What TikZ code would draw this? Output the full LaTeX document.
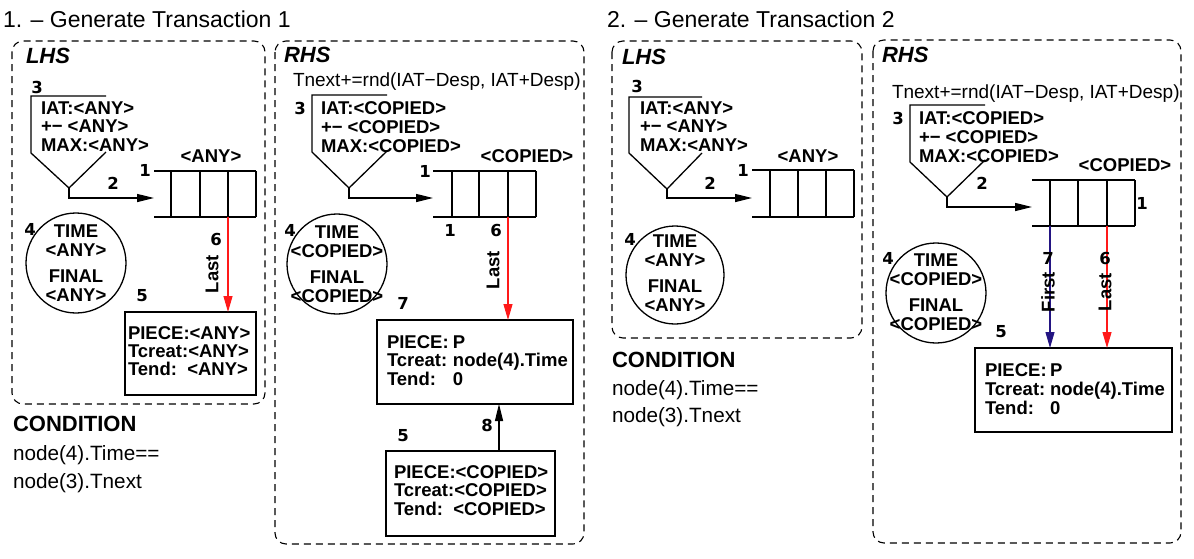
\documentclass[tikz,border=0pt]{standalone}
\usepackage{fontspec}
\setmainfont{Liberation Sans}
\newfontfamily\numfont{DejaVu Sans}
\usetikzlibrary{arrows.meta}
\definecolor{arred}{RGB}{255,25,25}
\definecolor{arblue}{RGB}{35,20,130}
\begin{document}
\begin{tikzpicture}[x=1pt,y=-1pt,
  every node/.style={inner sep=0pt,outer sep=0pt},
  panel/.style={draw,dash pattern=on 7pt off 5pt,line width=1.1pt,rounded corners=11pt},
  ttl/.style={font=\fontsize{23}{26}\selectfont,anchor=base west},
  side/.style={font=\fontsize{22}{24}\selectfont\bfseries\itshape,anchor=base west},
  attr/.style={font=\fontsize{18.5}{18.6}\selectfont\bfseries,align=left,anchor=north west},
  ctext/.style={font=\fontsize{18.5}{19}\selectfont\bfseries,align=center},
  num/.style={font=\numfont\bfseries\fontsize{16.5}{16.5}\selectfont},
  bold18/.style={font=\fontsize{18.5}{18.5}\selectfont\bfseries},
  formula/.style={font=\fontsize{19}{21}\selectfont,anchor=base west},
  condh/.style={font=\fontsize{22}{24}\selectfont\bfseries,anchor=base west},
  condt/.style={font=\fontsize{20.7}{28}\selectfont,anchor=base west},
  shp/.style={line width=1.3pt},
  box/.style={draw,line width=1.3pt,anchor=north west},
  circ/.style={draw,circle,line width=1.3pt,minimum size=100pt},
  arr/.style={line width=1.3pt,-{Triangle[length=17pt,width=8pt]}},
  redarr/.style={arred,line width=1.1pt,-{Triangle[length=16pt,width=9pt]}},
  bluearr/.style={arblue,line width=1.1pt,-{Triangle[length=16pt,width=9pt]}},
  rot/.style={bold18,rotate=90}
]
\useasboundingbox (0,0) rectangle (1194,558);

% ================= Panel 1 =================
\node[ttl] (t1) at (3,27) {1. -- Generate Transaction 1};

% ---- LHS 1
\draw[panel] (12,41) rectangle (265,404);
\node[side] (lhs1) at (26,63) {LHS};
\node[num] (n13) at (37,87) {3};
\draw[shp] (106,96) -- (31,96) -- (31,153) -- (69,188) -- (106,152);
\node[attr] (g1t) at (41,101.5) {IAT:<ANY>\\+− <ANY>\\MAX:<ANY>};
\coordinate (g1) at (69,188);
\coordinate (q1in) at (154,198);
\draw[arr] (g1) |- (q1in);
\node[num] (n12) at (113,183) {2};
\draw[shp] (154,171) -- (256,171) (154,217) -- (256,217);
\foreach \xx in {171,200,228,256} \draw[shp] (\xx,171) -- (\xx,217);
\coordinate (q1c3) at (228,217);
\node[num] (n11) at (145,170) {1};
\node[bold18] (q1lab) at (211,156) {<ANY>};
\node[circ] (c1) at (76,263) {};
\node[ctext] (c1t) at (76,263) {TIME\\<ANY>\\[7pt]FINAL\\<ANY>};
\node[num] (n14) at (30,229) {4};
\node[box,minimum width=131pt,minimum height=83pt] (b1) at (125,312) {};
\node[attr,font=\fontsize{18.5}{18}\selectfont\bfseries] (b1t) at (128,326.5) {PIECE:<ANY>\\Tcreat:<ANY>\\Tend:\ \ <ANY>};
\draw[redarr] (q1c3) -- (b1.north -| q1c3);
\node[num] (n16) at (216,239) {6};
\node[rot] (l1) at (212,274) {Last};
\node[num] (n15) at (142,296) {5};

\node[condh] (cond1) at (13,431.5) {CONDITION};
\node[condt] (cond1a) at (13,460) {node(4).Time==};
\node[condt] (cond1b) at (13,488) {node(3).Tnext};

% ---- RHS 1
\draw[panel] (275,41) rectangle (584,544);
\node[side] (rhs1) at (284,62.5) {RHS};
\node[formula] (f1) at (293,86.5) {Tnext+=rnd(IAT−Desp, IAT+Desp)};
\node[num] (n23) at (300,108) {3};
\draw[shp] (387,95) -- (312,95) -- (312,152) -- (349,188) -- (387,151);
\node[attr,font=\fontsize{18.5}{19}\selectfont\bfseries] (g2t) at (321,101.5) {IAT:<COPIED>\\+− <COPIED>\\MAX:<COPIED>};
\coordinate (g2) at (349,188);
\coordinate (q2in) at (433,198);
\draw[arr] (g2) |- (q2in);
\draw[shp] (433,171) -- (536,171) (433,217) -- (536,217);
\foreach \xx in {452,479,508,536} \draw[shp] (\xx,171) -- (\xx,217);
\coordinate (q2c3) at (508,217);
\node[num] (n21) at (425,171) {1};
\node[bold18] (q2lab) at (527,156) {<COPIED>};
\node[num] (n21b) at (450,230) {1};
\node[num] (n26) at (496,230) {6};
\node[circ] (c2) at (337,264) {};
\node[ctext] (c2t) at (337,264) {TIME\\<COPIED>\\[7pt]FINAL\\<COPIED>};
\node[num] (n24) at (290,230) {4};
\node[rot] (l2) at (493,270) {Last};
\node[num] (n27) at (403,303) {7};
\node[box,minimum width=196pt,minimum height=84pt] (b7) at (377,320) {};
\node[attr,font=\fontsize{18.5}{18.5}\selectfont\bfseries] (b7t) at (387,335.5)
  {\makebox[66pt][l]{PIECE:}P\\\makebox[66pt][l]{Tcreat:}node(4).Time\\\makebox[66pt][l]{Tend:}0};
\draw[redarr] (q2c3) -- (b7.north -| q2c3);
\node[box,minimum width=169pt,minimum height=85pt] (b5) at (386,451) {};
\node[attr,font=\fontsize{18.5}{18.5}\selectfont\bfseries] (b5t) at (394,465.5)
  {PIECE:<COPIED>\\Tcreat:<COPIED>\\Tend:\ \ <COPIED>};
\coordinate (a8) at (499,451);
\draw[arr] (a8) -- (b7.south -| a8);
\node[num] (n28) at (487,425) {8};
\node[num] (n25) at (403,436) {5};

% ================= Panel 2 =================
\node[ttl] (t2) at (607,27) {2. -- Generate Transaction 2};

% ---- LHS 2
\draw[panel] (612,41) rectangle (862,338);
\node[side] (lhs2) at (622,64) {LHS};
\node[num] (n33) at (637,86) {3};
\draw[shp] (702,97) -- (629,97) -- (629,153) -- (667,189) -- (702,153);
\node[attr] (g3t) at (640,101.5) {IAT:<ANY>\\+− <ANY>\\MAX:<ANY>};
\coordinate (g3) at (667,189);
\coordinate (q3in) at (752,198);
\draw[arr] (g3) |- (q3in);
\node[num] (n32) at (710,183) {2};
\draw[shp] (752,170) -- (854,170) (752,217) -- (854,217);
\foreach \xx in {770,798,826,854} \draw[shp] (\xx,170) -- (\xx,217);
\node[num] (n31) at (743,170) {1};
\node[bold18] (q3lab) at (808,156) {<ANY>};
\node[circ,minimum size=98pt] (c3) at (675,275) {};
\node[ctext] (c3t) at (675,273) {TIME\\<ANY>\\[7pt]FINAL\\<ANY>};
\node[num] (n34) at (630,239) {4};

\node[condh] (cond2) at (612,367.5) {CONDITION};
\node[condt] (cond2a) at (612,395) {node(4).Time==};
\node[condt] (cond2b) at (612,422) {node(3).Tnext};

% ---- RHS 2
\draw[panel] (873,40) rectangle (1181,543);
\node[side] (rhs2) at (882,62.5) {RHS};
\node[formula] (f2) at (892,98.3) {Tnext+=rnd(IAT−Desp, IAT+Desp)};
\node[num] (n43) at (898,118) {3};
\draw[shp] (985,105) -- (910,105) -- (910,162) -- (947,197) -- (985,160);
\node[attr,font=\fontsize{18.5}{19}\selectfont\bfseries] (g4t) at (919,111.5) {IAT:<COPIED>\\+− <COPIED>\\MAX:<COPIED>};
\coordinate (g4) at (947,197);
\coordinate (q4in) at (1032,207);
\draw[arr] (g4) |- (q4in);
\node[num] (n42) at (982,183) {2};
\draw[shp] (1032,180) -- (1135,180) (1032,226) -- (1135,226);
\foreach \xx in {1050,1078,1107,1135} \draw[shp] (\xx,180) -- (\xx,226);
\coordinate (q4c1) at (1050,226);
\coordinate (q4c3) at (1107,226);
\node[num] (n41) at (1142,203) {1};
\node[bold18] (q4lab) at (1125,165) {<COPIED>};
\node[circ] (c4) at (936,293) {};
\node[ctext] (c4t) at (936,292) {TIME\\<COPIED>\\[7pt]FINAL\\<COPIED>};
\node[num] (n44) at (888,258) {4};
\node[num] (n45) at (1001,332) {5};
\node[box,minimum width=197pt,minimum height=84pt] (b25) at (975,348) {};
\node[attr,font=\fontsize{18.5}{19}\selectfont\bfseries] (b25t) at (985,363.5)
  {\makebox[65pt][l]{PIECE:}P\\\makebox[65pt][l]{Tcreat:}node(4).Time\\\makebox[65pt][l]{Tend:}0};
\draw[bluearr] (q4c1) -- (b25.north -| q4c1);
\draw[redarr] (q4c3) -- (b25.north -| q4c3);
\node[num] (n47) at (1048,258) {7};
\node[rot] (l47) at (1048,292) {First};
\node[num] (n46) at (1105,258) {6};
\node[rot] (l46) at (1105,292) {Last};
\end{tikzpicture}
\end{document}
